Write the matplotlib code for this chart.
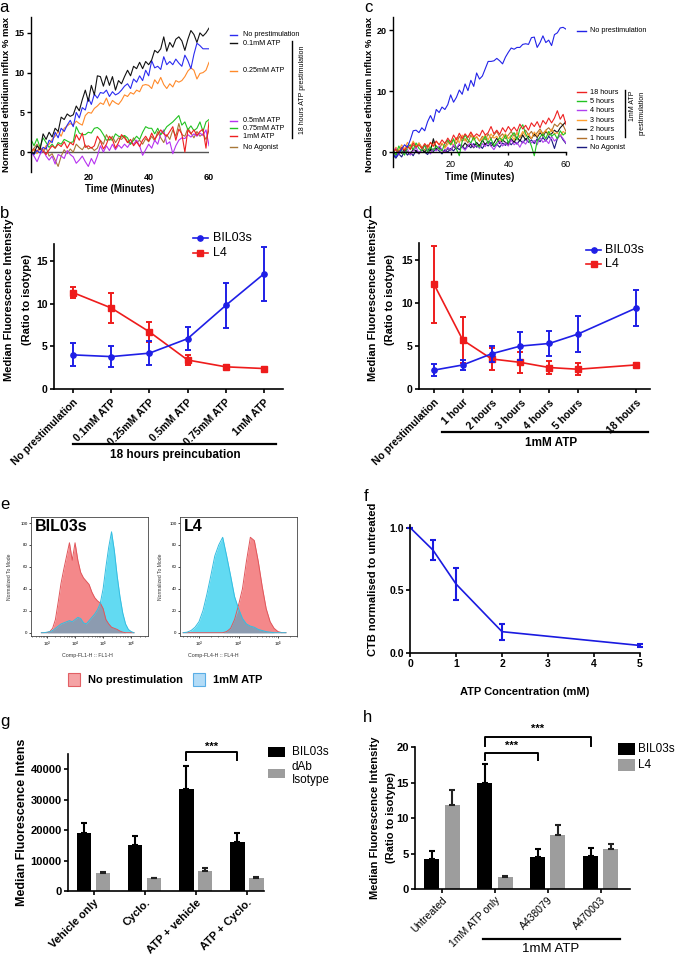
import numpy as np
import matplotlib
matplotlib.use('Agg')
import matplotlib.pyplot as plt
from matplotlib.lines import Line2D
from matplotlib.patches import Rectangle

plt.rcParams['font.family'] = ['Liberation Sans', 'DejaVu Sans']

# ---------------- data ----------------
# panel a: ethidium influx after 18 h ATP prestimulation (t = 1..60 min)
t_a = np.arange(1, 61)
a_noprestim = [0.0, -0.3, 0.2, -0.1, 0.6, 0.4, 1.5, 1.2, 2.5, 1.8,
               3.0, 2.6, 3.4, 4.0, 3.2, 5.0, 4.3, 5.6, 5.3, 6.8,
               6.0, 7.3, 6.8, 7.5, 7.4, 7.8, 7.0, 7.6, 7.2, 7.4,
               7.8, 8.3, 8.6, 8.0, 9.2, 8.8, 9.6, 9.0, 10.3, 9.6,
               11.5, 10.6, 10.8, 10.4, 12.0, 11.0, 11.4, 11.0, 11.7, 11.2,
               10.8, 12.2, 11.5, 10.5, 12.3, 13.7, 13.4, 13.0, 13.0, 13.0]
a_01mM = [0.0, -0.2, 0.8, 0.3, 2.3, 1.6, 2.5, 1.9, 3.0, 2.6,
          4.4, 4.1, 4.8, 4.5, 4.7, 5.8, 5.2, 6.6, 7.8, 6.4,
          8.4, 7.2, 9.6, 9.5, 8.3, 9.6, 8.4, 9.5, 7.8, 9.0,
          8.6, 9.5, 10.3, 9.6, 10.8, 10.5, 11.3, 10.5, 11.4, 11.0,
          11.6, 12.8, 12.5, 13.0, 14.5, 12.7, 13.8, 13.2, 14.2, 14.5,
          14.0, 12.8, 14.2, 15.3, 14.8, 13.8, 15.0, 14.6, 15.0, 15.6]
a_025mM = [0.0, 0.3, -0.2, 0.5, 0.2, 0.8, 1.0, 1.6, 2.0, 2.6,
           2.0, 3.0, 3.3, 3.6, 3.4, 3.9, 3.6, 3.4, 4.6, 5.0,
           4.9, 5.5, 5.8, 6.2, 6.0, 6.8, 5.8, 6.5, 6.2, 6.0,
           6.5, 7.2, 7.0, 7.5, 7.3, 7.8, 7.6, 8.4, 8.5, 8.4,
           8.0, 9.1, 8.6, 9.4, 8.5, 8.0, 8.6, 8.2, 9.0, 8.8,
           9.0, 9.5, 10.2, 10.6, 10.3, 9.2, 9.9, 10.0, 10.3, 11.3]
a_05mM = [0.0, -0.5, -1.2, -0.3, 0.3, -0.5, -1.0, -0.5, -1.5, -0.3,
          -0.5, -0.8, 0.2, -0.3, -0.6, -1.4, -1.0, -0.5, -1.2, -1.8,
          -0.8, -1.5, -0.5, 0.8, 0.0, 0.8, 0.2, 1.0, 0.3, 0.9,
          0.5, 1.0, 0.6, 1.2, 1.0, 1.5, 0.8, -0.4, 0.3, 1.0,
          0.5, 1.5, 1.0, 2.3, 2.8, 1.0, 1.3, -0.2, 0.8, 1.5,
          1.8, 1.7, 2.2, 1.9, 2.3, 2.0, 2.4, 2.1, 2.8, 0.8]
a_075mM = [1.6, 0.8, 1.7, 0.6, 1.8, 1.2, 0.6, 1.0, 0.5, 1.2,
           1.0, 1.6, 1.4, 1.2, 1.3, 3.2, 2.4, 2.2, 2.2, 2.5,
           2.4, 3.0, 3.1, 2.8, 2.2, 1.5, 1.6, 1.5, 2.3, 2.0,
           1.9, 2.1, 1.8, 1.0, 1.5, 2.0, 1.6, 2.5, 3.2, 3.0,
           3.0, 2.3, 3.0, 2.2, 2.6, 3.2, 3.5, 3.8, 4.2, 4.6,
           3.4, 3.8, 2.8, 3.3, 2.7, 3.0, 3.8, 2.6, 3.8, 4.1]
a_1mM = [0.0, 0.4, 0.1, 0.6, 0.2, -0.3, 0.3, 0.8, 0.5, 1.0,
         0.7, 1.3, 0.5, 1.2, 0.9, 2.2, 1.5, 2.4, 0.6, 0.8,
         0.5, 0.8, 2.0, 1.4, 0.4, 1.0, 2.0, 1.6, 0.5, 1.2,
         2.2, 1.8, 1.2, 1.6, 0.8, 1.3, 0.7, 1.5, 2.0, 1.4,
         2.4, 1.6, 2.2, 2.8, 2.3, 2.0, 2.6, 3.2, 1.5, 2.9,
         2.3, 0.0, 2.8, 2.3, 2.8, 2.1, 2.6, 2.9, 0.5, 3.8]
a_noagonist = [0.0, 0.5, 1.0, 0.4, 0.0, 0.6, -0.5, -0.2, -1.0, -1.8,
               -0.5, 0.3, -0.2, 0.4, 0.0, 1.0, 0.6, 0.3, 0.9, 0.4,
               0.6, 0.2, 0.5, 1.5, 1.0, 2.2, 1.5, 2.0, 1.2, 1.8,
               1.6, 2.0, 1.3, 1.0, 1.8, 1.2, 1.5, 1.0, 1.7, 1.3,
               2.0, 1.4, 2.6, 1.8, 1.2, 2.2, 1.6, 2.8, 2.0, 3.6,
               2.2, 2.0, 3.0, 2.4, 1.8, 2.6, 2.0, 2.3, 1.6, 2.8]
a_labels = ['No prestimulation', '0.1mM ATP', '0.25mM ATP', '0.5mM ATP',
            '0.75mM ATP', '1mM ATP', 'No Agonist']

# panel c: ethidium influx after 1 mM ATP for various times (t = 0..60 min)
t_c = np.arange(0, 61)
c_noprestim = [-0.3, -0.8, -0.2, 0.5, 1.2, 0.8, 2.0, 3.5, 3.6, 3.2,
               4.0, 3.5, 5.0, 6.0, 5.0, 7.0, 6.5, 7.4, 7.0, 7.8,
               9.4, 8.2, 9.0, 10.2, 9.5, 11.2, 10.1, 11.8, 10.8, 13.0,
               12.0, 12.5, 13.7, 14.9, 14.9, 15.0, 15.4, 15.0, 14.5, 15.6,
               16.4, 17.1, 16.9, 17.2, 17.2, 17.7, 17.8, 17.7, 18.8, 18.9,
               17.2, 18.0, 19.1, 18.0, 18.4, 17.5, 19.3, 19.6, 20.4, 20.5, 20.2]
c_18h = [0.0, 0.5, -0.3, 0.8, 0.3, 1.0, 0.5, 1.5, 0.8, 1.2,
         0.6, 1.4, 0.8, 1.6, 1.0, 1.8, 1.2, 2.0, 1.4, 2.3,
         1.6, 2.8, 2.0, 3.1, 2.2, 3.0, 2.4, 3.3, 2.5, 3.0,
         2.6, 3.6, 2.8, 3.2, 4.2, 3.0, 3.6, 2.9, 4.0, 3.3,
         4.2, 3.5, 4.1, 3.4, 4.6, 3.8, 4.4, 3.6, 4.8, 4.2,
         5.0, 4.0, 5.2, 4.6, 5.6, 4.8, 5.6, 6.8, 5.4, 6.2, 4.5]
c_5h = [0.5, -0.5, 1.0, 0.2, -0.5, 0.8, 1.2, 0.4, 1.5, 0.6,
        0.2, 1.2, 0.0, 0.8, 0.3, 1.0, 0.5, 0.2, 1.5, 2.0,
        1.2, 2.2, 0.5, -0.6, 1.8, 2.8, 2.0, 1.5, 2.5, 1.2,
        0.8, 1.8, 2.6, 1.4, 2.2, 1.0, 1.6, 2.4, 1.8, 2.8,
        1.5, 2.6, 3.2, 2.0, 3.8, 4.5, 3.0, 2.2, 1.0, -0.6,
        1.8, 2.5, 3.0, 2.2, 3.4, 2.6, 3.0, 2.2, 3.5, 2.8, 3.2]
c_4h = [0.0, 0.6, -0.4, 0.3, -0.3, 0.5, -0.5, 0.2, 0.8, -0.2,
        0.5, 1.0, 0.3, -0.3, 0.6, 0.2, 1.0, 0.4, 0.0, 0.8,
        0.3, 1.2, 0.6, 1.4, 0.8, 0.3, 1.0, 1.6, 0.8, 1.2,
        0.6, 1.4, 0.9, 1.7, 1.0, 0.4, 1.2, 1.8, 1.0, 1.5,
        1.0, 2.0, 1.2, 1.6, 0.8, 1.8, 1.3, 2.2, 1.5, 1.9,
        1.2, 2.4, 1.6, 2.0, 1.4, 2.6, 1.8, 2.3, 2.8, 2.2, 1.5]
c_3h = [0.0, 0.8, 0.3, 1.2, 0.5, 1.6, 0.8, 1.8, 1.0, 1.5,
        0.5, 1.2, 0.6, 1.6, 0.9, 1.8, 1.2, 1.5, 0.6, 1.3,
        1.8, 1.0, 2.4, 1.5, 2.8, 1.8, 2.5, 3.2, 2.0, 2.6,
        1.8, 2.2, 2.8, 2.0, 3.0, 2.3, 2.6, 1.8, 2.4, 3.0,
        2.2, 2.8, 2.0, 3.2, 2.5, 3.4, 2.6, 3.0, 2.2, 3.3,
        2.6, 3.5, 2.8, 3.6, 2.9, 3.8, 3.0, 3.2, 2.6, 3.4, 3.0]
c_2h = [0.0, -0.5, 0.3, -0.2, 0.4, 0.0, -0.4, 0.5, 0.2, -0.3,
        0.4, 0.0, 0.6, 0.2, 2.2, 0.4, 0.8, 0.3, 0.0, 0.6,
        0.3, 1.0, 0.5, 1.2, 0.8, 1.5, 0.9, 1.3, 0.7, 1.6,
        1.0, 2.0, 1.2, 1.8, 1.0, 1.5, 2.3, 1.4, 2.0, 1.6,
        1.2, 2.2, 1.6, 2.5, 1.8, 2.8, 2.0, 2.6, 2.2, 3.0,
        2.4, 3.2, 2.6, 3.4, 2.8, 3.0, 3.6, 3.2, 4.0, 4.5, 5.0]
c_1h = [0.0, 0.4, -0.3, 0.6, 0.2, 1.0, 0.4, 1.2, 0.6, 1.5,
        0.8, 0.3, 1.2, 0.6, 1.6, 1.0, 0.5, 1.4, 0.8, 1.8,
        1.2, 2.0, 1.4, 2.6, 1.8, 2.2, 1.5, 2.8, 2.0, 2.5,
        1.8, 2.6, 2.0, 3.0, 2.2, 2.8, 3.4, 2.5, 3.0, 2.2,
        2.8, 3.4, 2.6, 3.2, 2.4, 3.0, 3.6, 2.8, 3.4, 2.6,
        3.2, 3.8, 3.0, 3.6, 4.0, 3.4, 4.6, 4.2, 4.8, 4.4, 3.4]
c_noagonist = [-0.5, -1.0, -0.3, -0.8, 0.2, -0.5, 0.0, -0.6, 0.3, -0.2,
               0.4, 0.0, -0.4, 0.5, 0.1, 0.6, 0.2, -0.3, 0.4, 0.0,
               0.6, 0.2, 0.8, 0.4, 1.0, 0.5, 1.2, 0.7, 1.4, 0.8,
               1.2, 0.6, 1.4, 1.0, 1.6, 0.9, 1.3, 0.8, 1.5, 1.1,
               1.7, 1.2, 1.8, 1.3, 2.0, 1.5, 2.2, 1.6, 2.0, 1.4,
               2.2, 1.7, 2.4, 1.8, 2.6, 2.0, 0.6, 2.2, 2.8, 2.0, 1.4]
c_labels = ['No prestimulation', '18 hours', '5 hours', '4 hours', '3 hours',
            '2 hours', '1 hours', 'No Agonist']

# panel b: dose series, 18 h preincubation
b_cats = ['No prestimulation', '0.1mM ATP', '0.25mM ATP', '0.5mM ATP',
          '0.75mM ATP', '1mM ATP']
b_bil = [4.0, 3.8, 4.2, 5.9, 9.8, 13.5]
b_bil_err = [1.35, 1.2, 1.4, 1.35, 2.65, 3.15]
b_l4 = [11.3, 9.5, 6.7, 3.4, 2.6, 2.4]
b_l4_err = [0.6, 1.8, 1.2, 0.6, 0.2, 0.15]

# panel d: time series, 1 mM ATP
d_cats = ['No prestimulation', '1 hour', '2 hours', '3 hours', '4 hours',
          '5 hours', '18 hours']
d_pos = [0, 1, 2, 3, 4, 5, 7]
d_bil = [2.2, 2.8, 4.1, 5.0, 5.3, 6.4, 9.4]
d_bil_err = [0.7, 0.6, 0.9, 1.6, 1.5, 2.1, 2.1]
d_l4 = [12.2, 5.7, 3.5, 3.1, 2.5, 2.3, 2.8]
d_l4_err = [4.5, 2.65, 1.3, 1.2, 0.75, 0.7, 0.25]

# panel e: flow cytometry histograms (log10 of intensity, % of mode)
e1_logx = np.round(np.arange(2.8, 6.15, 0.1), 1)
e1_noprestim = [0, 0, 0, 1, 4, 12, 28, 45, 58, 70,
                82, 66, 82, 66, 55, 50, 47, 44, 37, 32,
                29, 27, 22, 12, 8, 5, 4, 3, 1.5, 0.5,
                0, 0, 0, 0]
e1_atp = [0, 0, 0.5, 1, 2, 4, 6, 8, 9, 10,
          11, 10, 12, 14, 13, 9, 8, 11, 14, 17,
          21, 27, 40, 60, 78, 92, 75, 52, 33, 18,
          8, 3, 1, 0]
e2_logx = np.round(np.arange(2.6, 5.25, 0.1), 1)
e2_noprestim = [0, 0, 0, 0, 0, 0, 0, 0, 0, 0,
                0, 1, 4, 12, 25, 40, 65, 87, 84, 65,
                42, 22, 10, 4, 1, 0, 0]
e2_atp = [0, 0.5, 2, 5, 10, 20, 35, 52, 70, 80,
          87, 70, 52, 33, 22, 13, 8, 6, 5, 3,
          2, 1, 0.5, 0, 0, 0, 0]

# panel f: CTB vs ATP concentration
f_conc = [0, 0.5, 1, 2, 5]
f_ctb = [1.0, 0.82, 0.55, 0.17, 0.06]
f_err = [0.0, 0.08, 0.13, 0.065, 0.015]

# panel g: cyclosporin bars
g_cats = ['Vehicle only', 'Cyclo.', 'ATP + vehicle', 'ATP + Cyclo.']
g_bil = [19000, 15000, 33500, 16000]
g_bil_err = [3300, 3000, 7500, 3200]
g_iso = [6000, 4200, 6500, 4300]
g_iso_err = [400, 200, 900, 150]

# panel h: P2X7 antagonists
h_cats = ['Untreated', '1mM ATP only', 'A438079', 'A470003']
h_bil = [4.2, 14.9, 4.5, 4.6]
h_bil_err = [1.1, 2.7, 1.1, 1.2]
h_l4 = [11.9, 1.7, 7.6, 5.6]
h_l4_err = [2.1, 0.15, 1.4, 0.8]

# ---------------- figure helpers ----------------
W, H = 678, 955
fig = plt.figure(figsize=(W / 100, H / 100), dpi=100)


def ax_px(l, t, r, b):
    return fig.add_axes([l / W, 1 - b / H, (r - l) / W, (b - t) / H])


def ftext(x, y, s, **kw):
    kw.setdefault('ha', 'left')
    kw.setdefault('va', 'center')
    fig.text(x / W, 1 - y / H, s, **kw)


def fline(xs, ys, **kw):
    fig.add_artist(Line2D([x / W for x in xs], [1 - y / H for y in ys],
                          transform=fig.transFigure, **kw))


def fbox(l, t, r, b, **kw):
    fig.add_artist(Rectangle((l / W, 1 - b / H), (r - l) / W, (b - t) / H,
                             transform=fig.transFigure, **kw))


def prism(ax, fs=7.5, lw=1.2, bold_x=True):
    ax.spines['top'].set_visible(False)
    ax.spines['right'].set_visible(False)
    ax.spines['left'].set_linewidth(lw)
    ax.spines['bottom'].set_linewidth(lw)
    ax.tick_params(width=lw, length=3, pad=1.5, labelsize=fs)
    for lab in ax.get_yticklabels():
        lab.set_fontweight('bold')
    if bold_x:
        for lab in ax.get_xticklabels():
            lab.set_fontweight('bold')


BLUE = '#1f1fe6'
RED = '#ee1c1c'

# ---------------- panel a ----------------
ax = ax_px(31, 17, 209, 172)
a_series = [a_noprestim, a_01mM, a_025mM, a_05mM, a_075mM, a_1mM, a_noagonist]
a_colors = ['#2b2bf0', '#111111', '#ff8a2a', '#b632f0', '#22c322', '#ee2020', '#a87838']
ax.axhline(0, color='#555555', lw=1.0, zorder=1)
for i in [6, 3, 4, 5, 2, 0, 1]:
    ax.plot(t_a, a_series[i], color=a_colors[i], lw=0.8, zorder=2)
ax.set_xlim(1, 60)
ax.set_ylim(-2.5, 17)
ax.set_xticks([20, 40, 60])
ax.set_yticks([0, 5, 10, 15])
prism(ax, fs=6.5, lw=1.0)
ax.spines['bottom'].set_visible(False)
ax.tick_params(axis='x', length=0, pad=1)
ftext(120, 189, 'Time (Minutes)', ha='center', fontsize=7, fontweight='bold')
ftext(7, 95, 'Normalised ethidium Influx % max', ha='center', rotation=90,
      fontsize=6.8, fontweight='bold')
a_leg_y = [35, 43, 71, 121, 128.5, 136, 147.3]
for lab, c, y in zip(a_labels, a_colors, a_leg_y):
    fline([230, 237], [y, y], color=c, lw=1.0)
    ftext(243, y, lab, fontsize=5.2)
fline([292, 292], [41, 138], color='black', lw=1.0)
ftext(303, 90, '18 hours ATP prestimulation', ha='center', rotation=90, fontsize=5)

# ---------------- panel c ----------------
ax = ax_px(393, 17, 566, 167)
c_series = [c_noprestim, c_18h, c_5h, c_4h, c_3h, c_2h, c_1h, c_noagonist]
c_colors = ['#2222e8', '#ee2222', '#22c322', '#b040f0', '#ffa030', '#111111',
            '#b0702a', '#1a1a80']
for i in [7, 6, 5, 4, 3, 2, 1, 0]:
    ax.plot(t_c, c_series[i], color=c_colors[i], lw=0.8)
ax.set_xlim(0, 60)
ax.set_ylim(-2.45, 22.2)
ax.set_xticks([20, 40, 60])
ax.set_yticks([0, 10, 20])
prism(ax, fs=6.5, lw=1.0)
ax.spines['bottom'].set_position(('data', 0))
ax.tick_params(axis='x', length=2, pad=3.5)
ftext(480, 177, 'Time (Minutes)', ha='center', fontsize=7, fontweight='bold')
ftext(370, 95, 'Normalised ethidium Influx % max', ha='center', rotation=90,
      fontsize=6.8, fontweight='bold')
c_leg_y = [31, 92, 101.5, 110.5, 120, 129.3, 138.3, 147.5]
for lab, c, y in zip(c_labels, c_colors, c_leg_y):
    fline([577, 586], [y, y], color=c, lw=1.0)
    ftext(590, y, lab, fontsize=5.2)
fline([625, 625], [90, 137], color='black', lw=1.0)
ftext(633, 106, '1mM ATP', ha='center', rotation=90, fontsize=5)
ftext(642, 113, 'prestimulation', ha='center', rotation=90, fontsize=5)


# ---------------- panels b & d ----------------
def line_panel(ax, pos, cats, bil, bil_err, l4, l4_err, xlim):
    ax.errorbar(pos, l4, yerr=l4_err, color=RED, marker='s', ms=3.8, lw=1.2,
                elinewidth=1.4, capsize=2.2, capthick=1.4, clip_on=False, zorder=3)
    ax.errorbar(pos, bil, yerr=bil_err, color=BLUE, marker='o', ms=3.8, lw=1.2,
                elinewidth=1.4, capsize=2.2, capthick=1.4, clip_on=False, zorder=4)
    ax.set_xlim(*xlim)
    ax.set_ylim(0, 17)
    ax.set_yticks([0, 5, 10, 15])
    ax.set_xticks(pos)
    ax.set_xticklabels(cats, rotation=45, ha='right', va='top', rotation_mode='anchor')
    prism(ax, fs=7.5)
    ax.tick_params(axis='x', pad=3)


ax = ax_px(54, 244, 283, 389)
line_panel(ax, range(6), b_cats, b_bil, b_bil_err, b_l4, b_l4_err, (-0.5, 5.5))
ftext(9, 300, 'Median Fluorescence Intensity', ha='center', rotation=90,
      fontsize=8, fontweight='bold')
ftext(27, 300, '(Ratio to isotype)', ha='center', rotation=90, fontsize=8, fontweight='bold')
fline([73, 276], [444, 444], color='black', lw=1.6)
ftext(175, 455, '18 hours preincubation', ha='center', fontsize=8.5, fontweight='bold')
fline([193, 200.5, 208], [238, 238, 238], color=BLUE, lw=1.2, marker='o', ms=3.8,
      markevery=[1])
fline([193, 200.5, 208], [253, 253, 253], color=RED, lw=1.2, marker='s', ms=3.8,
      markevery=[1])
ftext(213, 238, 'BIL03s', fontsize=9)
ftext(213, 253, 'L4', fontsize=9)

ax = ax_px(419, 243, 650, 389)
line_panel(ax, d_pos, d_cats, d_bil, d_bil_err, d_l4, d_l4_err, (-0.52, 7.5))
ftext(373, 300, 'Median Fluorescence Intensity', ha='center', rotation=90,
      fontsize=8, fontweight='bold')
ftext(390, 300, '(Ratio to isotype)', ha='center', rotation=90, fontsize=8, fontweight='bold')
fline([442, 648], [432, 432], color='black', lw=1.6)
ftext(551, 443, '1mM ATP', ha='center', fontsize=8.5, fontweight='bold')
fline([586, 593.5, 601], [250, 250, 250], color=BLUE, lw=1.2, marker='o', ms=3.8,
      markevery=[1])
fline([586, 593.5, 601], [264, 264, 264], color=RED, lw=1.2, marker='s', ms=3.8,
      markevery=[1])
ftext(605, 250, 'BIL03s', fontsize=9)
ftext(605, 264, 'L4', fontsize=9)

# ---------------- panel e ----------------
RED_F, RED_E = '#f4888a', '#e0555a'
BLU_F, BLU_E = '#62daf2', '#35bde0'
OVL = '#8c9bb0'


def flow_panel(ax, logx, red, blue, xlim, xticks, name, xlab, ylab_x, xlab_x):
    x = 10 ** np.asarray(logx)
    red = np.asarray(red, float)
    blue = np.asarray(blue, float)
    ax.fill_between(x, 0, red, color=RED_F, lw=0)
    ax.fill_between(x, 0, blue, color=BLU_F, lw=0)
    ax.fill_between(x, 0, np.minimum(red, blue), color=OVL, lw=0)
    ax.plot(x, red, color=RED_E, lw=0.7)
    ax.plot(x, blue, color=BLU_E, lw=0.7)
    ax.set_xscale('log')
    ax.set_xlim(10 ** xlim[0], 10 ** xlim[1])
    ax.set_ylim(-3, 105.5)
    ax.set_xticks(xticks)
    ax.set_yticks([0, 20, 40, 60, 80, 100])
    ax.tick_params(labelsize=3.2, length=1.5, width=0.5, pad=1)
    ax.tick_params(which='minor', length=1, width=0.4)
    for s in ax.spines.values():
        s.set_linewidth(0.6)
        s.set_color('#444444')
    ax.text(0.03, 0.92, name, transform=ax.transAxes, fontsize=11.5,
            fontweight='bold', ha='left', va='center')
    ftext(ylab_x, 577, 'Normalized To Mode', ha='center', rotation=90, fontsize=3.6,
          color='#333333')
    ftext(xlab_x, 656, xlab, ha='center', fontsize=3.8, color='#333333')


ax = ax_px(31, 517, 148, 636)
flow_panel(ax, e1_logx, e1_noprestim, e1_atp, (2.43, 6.6), [1e3, 1e4, 1e5, 1e6],
           'BIL03s', 'Comp-FL1-H :: FL1-H', 10, 87)
ax = ax_px(180, 517, 297, 636)
flow_panel(ax, e2_logx, e2_noprestim, e2_atp, (2.52, 5.48), [1e3, 1e4, 1e5],
           'L4', 'Comp-FL4-H :: FL4-H', 160, 213)
fbox(68, 673, 80, 686, facecolor='#f5a3a5', edgecolor='#e26065', lw=0.8)
ftext(88, 680, 'No prestimulation', fontsize=8, fontweight='bold')
fbox(193, 673, 205, 686, facecolor='#b3dcf7', edgecolor='#5aaee6', lw=0.8)
ftext(213, 680, '1mM ATP', fontsize=8, fontweight='bold')

# ---------------- panel f ----------------
ax = ax_px(410, 525, 640, 653)
ax.errorbar(f_conc, f_ctb, yerr=f_err, color='#1a1ae0', lw=1.2, elinewidth=1.5,
            capsize=2.3, capthick=1.5, clip_on=False)
ax.set_xlim(0, 5)
ax.set_ylim(0, 1.02)
ax.set_xticks([0, 1, 2, 3, 4, 5])
ax.set_yticks([0.0, 0.5, 1.0])
ax.set_yticklabels(['0.0', '0.5', '1.0'])
prism(ax, fs=7.5)
ftext(525, 692, 'ATP Concentration (mM)', ha='center', fontsize=8, fontweight='bold')
ftext(373, 579, 'CTB normalised to untreated', ha='center', rotation=90,
      fontsize=8, fontweight='bold')


# ---------------- panels g & h ----------------
def bar_panel(ax, cats, v1, e1, v2, e2, off, bw):
    x = np.arange(len(cats))
    ax.bar(x - off, v1, width=bw, color='black', zorder=2)
    ax.bar(x + off, v2, width=bw, color='#9d9d9d', zorder=2)
    ax.errorbar(x - off, v1, yerr=[np.zeros(len(x)), e1], fmt='none', ecolor='black',
                elinewidth=1.5, capsize=2.5, capthick=1.5, zorder=3)
    ax.errorbar(x + off, v2, yerr=[np.zeros(len(x)), e2], fmt='none', ecolor='#222222',
                elinewidth=1.5, capsize=2.5, capthick=1.5, zorder=3)
    ax.set_xticks(x)


def bracket(ax, x0, x1, ytop, ybot, star_y):
    ax.plot([x0, x0, x1, x1], [ybot, ytop, ytop, ybot], color='black', lw=1.4,
            clip_on=False)
    ax.text((x0 + x1) / 2, star_y, '***', ha='center', va='center', fontsize=8,
            fontweight='bold', clip_on=False)


ax = ax_px(68, 754, 264, 891)
bar_panel(ax, g_cats, g_bil, g_bil_err, g_iso, g_iso_err, 0.186, 0.29)
ax.set_xlim(-0.5, 3.34)
ax.set_ylim(0, 45000)
ax.set_yticks([0, 10000, 20000, 30000, 40000])
ax.set_xticklabels(g_cats, rotation=45, ha='right', va='top', rotation_mode='anchor')
prism(ax, fs=8)
bracket(ax, 2 - 0.186, 3 - 0.186, 45600, 43000, 47400)
ftext(22, 822, 'Median Fluorescence Intens', ha='center', rotation=90,
      fontsize=9, fontweight='bold')
fbox(268, 747, 285, 757, facecolor='black', lw=0)
ftext(292, 752, 'BIL03s', fontsize=8.5)
fbox(268, 769, 285, 778, facecolor='#9d9d9d', lw=0)
ftext(292, 767, 'dAb', fontsize=8.5)
ftext(292, 780, 'Isotype', fontsize=8.5)

ax = ax_px(415, 747, 630, 889)
bar_panel(ax, h_cats, h_bil, h_bil_err, h_l4, h_l4_err, 0.19, 0.283)
ax.set_xlim(-0.51, 3.55)
ax.set_ylim(0, 20)
ax.set_yticks([0, 5, 10, 15, 20])
ax.set_xticklabels(h_cats, rotation=45, ha='right', va='top', rotation_mode='anchor')
prism(ax, fs=8, bold_x=False)
ax.tick_params(axis='x', labelsize=7.5)
bracket(ax, 1 - 0.19, 2 - 0.19, 19.15, 18.2, 20.15)
bracket(ax, 1 - 0.19, 3 - 0.19, 21.4, 20.1, 22.5)
ftext(375, 818, 'Median Fluorescence Intensity', ha='center', rotation=90,
      fontsize=8, fontweight='bold')
ftext(391, 818, '(Ratio to isotype)', ha='center', rotation=90, fontsize=8,
      fontweight='bold')
fline([483, 620], [939, 939], color='black', lw=1.6)
ftext(551, 949, '1mM ATP', ha='center', fontsize=9.5)
fbox(618, 743, 635, 755, facecolor='black', lw=0)
ftext(638, 749, 'BIL03s', fontsize=8.5)
fbox(618, 759, 635, 771, facecolor='#9d9d9d', lw=0)
ftext(638, 765, 'L4', fontsize=8.5)

# ---------------- panel letters ----------------
for s, x, y in [('a', 4, 7), ('b', 5, 213), ('c', 368, 7), ('d', 367, 214),
                ('e', 5, 504), ('f', 366, 496), ('g', 5, 721), ('h', 367, 718)]:
    ftext(x, y, s, ha='center', fontsize=12)

fig.savefig('out.png', dpi=100)
